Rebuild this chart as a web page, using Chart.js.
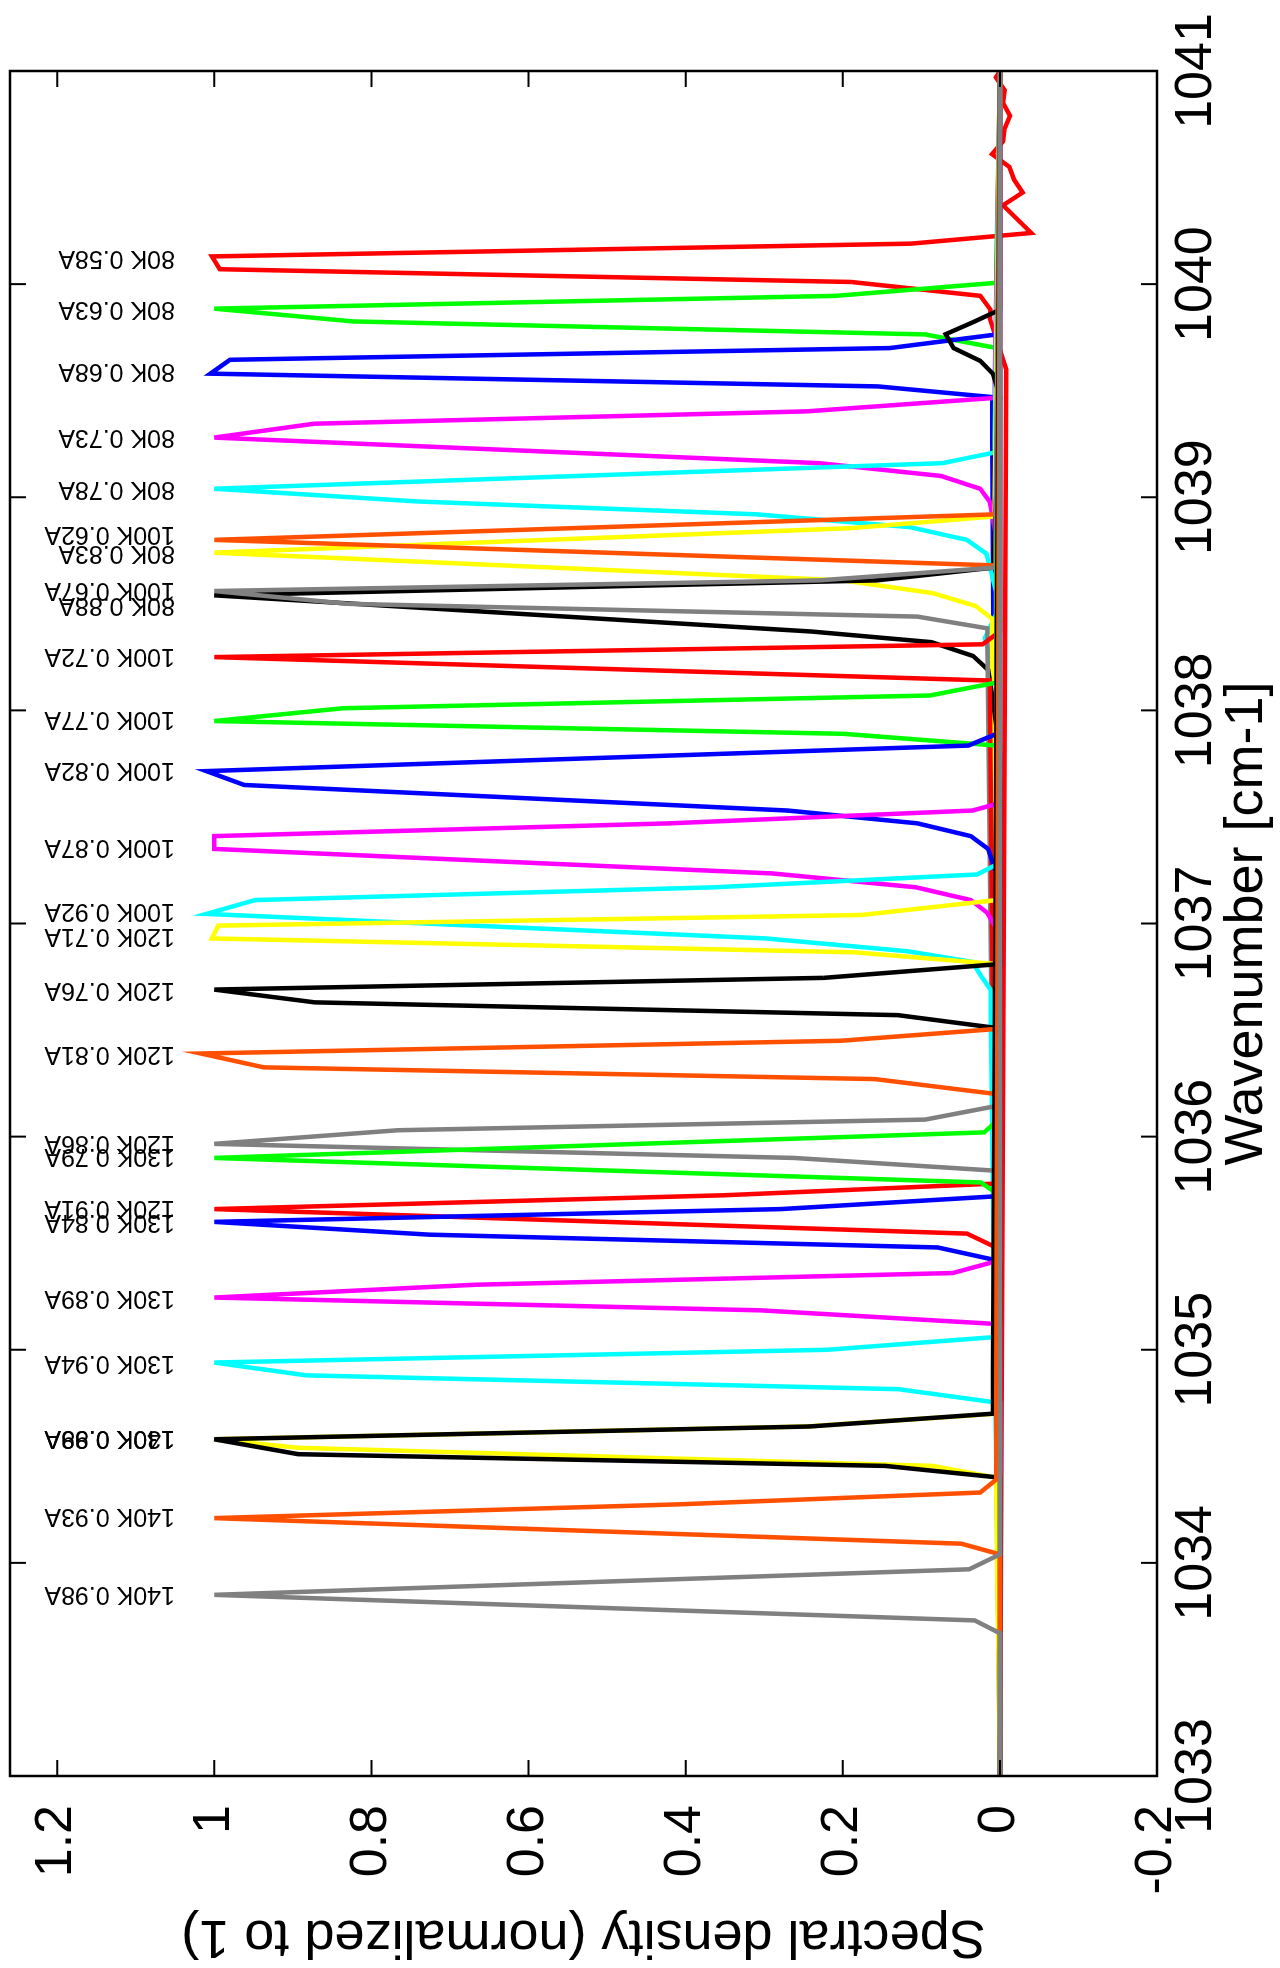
<!DOCTYPE html>
<html>
<head>
<meta charset="utf-8">
<script src="https://cdn.jsdelivr.net/npm/chart.js@4.4.1/dist/chart.umd.min.js"></script>
<style>
html, body { margin: 0; padding: 0; background: #fff; }
body { width: 1280px; height: 1968px; overflow: hidden; position: relative; }
/* the figure is drawn landscape and turned a quarter turn counter-clockwise */
#wrap { position: absolute; left: 0; top: 0; width: 1968px; height: 1280px;
        transform-origin: 0 0; transform: translateY(1968px) rotate(-90deg); }
</style>
</head>
<body>
<div id="wrap"><canvas id="myChart" width="1968" height="1280"></canvas></div>
<script>
// tick values
var waveTicks = [1033, 1034, 1035, 1036, 1037, 1038, 1039, 1040, 1041];
var densityTicks = [-0.2, 0, 0.2, 0.4, 0.6, 0.8, 1, 1.2];
var densityTickLabels = ['-0.2', '0', '0.2', '0.4', '0.6', '0.8', '1', '1.2'];

// one entry per spectrum, in plotting order
var seriesNames = [
    '80K 0.58A', '80K 0.63A', '80K 0.68A', '80K 0.73A', '80K 0.78A', '80K 0.83A', '80K 0.88A',
    '100K 0.62A', '100K 0.67A', '100K 0.72A', '100K 0.77A', '100K 0.82A', '100K 0.87A', '100K 0.92A',
    '120K 0.71A', '120K 0.76A', '120K 0.81A', '120K 0.86A', '120K 0.91A',
    '130K 0.79A', '130K 0.84A', '130K 0.89A', '130K 0.94A', '130K 0.99A',
    '140K 0.88A', '140K 0.93A', '140K 0.98A'
];
var colorCycle = ['#ff0000', '#00ff00', '#0000ff', '#ff00ff', '#00ffff', '#ffff00', '#000000', '#ff5000', '#808080'];

// where each text label sits (wavenumber) and at which density it starts
var labelWavenumbers = [
    1040.125, 1039.886, 1039.595, 1039.285, 1039.04, 1038.74, 1038.495,
    1038.826, 1038.565, 1038.256, 1037.96, 1037.72, 1037.36, 1037.06,
    1036.94, 1036.69, 1036.39, 1035.97, 1035.665,
    1035.91, 1035.60, 1035.245, 1034.94, 1034.585,
    1034.585, 1034.22, 1033.855
];
var labelLevel = 1.05;

// spectra: [wavenumber, spectral density]
var p80K058 = [[1033, 0], [1039.6, -0.008], [1039.84, 0.013], [1039.88, 0.012], [1039.945, 0.025], [1040.01, 0.189], [1040.07, 0.993], [1040.13, 1.003], [1040.19, 0.113], [1040.24, -0.04], [1040.37, -0.004], [1040.43, -0.029], [1040.49, -0.018], [1040.55, -0.012], [1040.61, 0.01], [1040.67, -0.004], [1040.73, -0.006], [1040.79, -0.013], [1040.85, -0.004], [1040.91, -0.006], [1040.97, 0.005], [1041, 0]];
var p80K063 = [[1033, 0], [1039.70, 0.004], [1039.764, 0.095], [1039.825, 0.823], [1039.885, 1.0], [1039.945, 0.209], [1040.006, 0.005], [1041, 0]];
var p80K068 = [[1033, 0], [1039.47, 0.01], [1039.52, 0.155], [1039.58, 1.005], [1039.645, 0.98], [1039.70, 0.14], [1039.764, 0.004], [1041, 0]];
var p80K073 = [[1033, 0], [1038.82, 0.005], [1038.98, 0.013], [1039.04, 0.025], [1039.10, 0.075], [1039.16, 0.23], [1039.28, 1.0], [1039.345, 0.873], [1039.403, 0.246], [1039.466, 0.007], [1041, 0]];
var p80K078 = [[1033, 0], [1038.14, 0.005], [1038.34, 0.019], [1038.45, 0.005], [1038.56, 0.005], [1038.735, 0.017], [1038.80, 0.042], [1038.86, 0.115], [1038.92, 0.31], [1038.98, 0.74], [1039.04, 1.0], [1039.16, 0.073], [1039.21, 0.007], [1041, 0]];
var p80K083 = [[1033, 0], [1038.43, 0.01], [1038.49, 0.031], [1038.55, 0.085], [1038.61, 0.2], [1038.74, 1.0], [1038.855, 0.19], [1038.91, 0.007], [1041, 0]];
var p80K088 = [[1033, 0], [1037.80, 0.0], [1038.05, 0.009], [1038.19, 0.015], [1038.255, 0.034], [1038.32, 0.087], [1038.37, 0.24], [1038.54, 1.0], [1038.61, 0.157], [1038.67, 0.008], [1039.47, 0.0], [1039.58, 0.009], [1039.64, 0.025], [1039.70, 0.059], [1039.765, 0.069], [1039.82, 0.035], [1039.88, 0.0], [1041, 0]];
var p100K062 = [[1033, 0], [1038.68, 0.005], [1038.80, 1.0], [1038.92, 0.005], [1041, 0]];
var p100K067 = [[1033, 0], [1038.385, 0.016], [1038.44, 0.105], [1038.50, 0.83], [1038.56, 1.0], [1038.61, 0.23], [1038.67, 0.006], [1041, 0]];
var p100K072 = [[1033, 0], [1038.14, 0.013], [1038.25, 1.0], [1038.31, 0.022], [1038.37, 0.0], [1041, 0]];
var p100K077 = [[1033, 0], [1037.835, 0.005], [1037.89, 0.199], [1037.95, 1.0], [1038.01, 0.836], [1038.07, 0.089], [1038.13, 0.005], [1041, 0]];
var p100K082 = [[1033, 0], [1037.24, 0.005], [1037.35, 0.015], [1037.41, 0.037], [1037.47, 0.105], [1037.53, 0.27], [1037.65, 0.962], [1037.715, 1.01], [1037.835, 0.04], [1037.89, 0.004], [1041, 0]];
var p100K087 = [[1033, 0], [1036.98, 0.005], [1037.05, 0.016], [1037.11, 0.037], [1037.17, 0.107], [1037.235, 0.29], [1037.35, 1.0], [1037.41, 1.0], [1037.47, 0.42], [1037.53, 0.035], [1037.56, 0.005], [1041, 0]];
var p100K092 = [[1033, 0], [1036.69, 0.012], [1036.76, 0.025], [1036.82, 0.035], [1036.87, 0.118], [1036.93, 0.298], [1037.045, 1.01], [1037.11, 0.948], [1037.17, 0.363], [1037.23, 0.029], [1037.275, 0.005], [1041, 0]];
var p120K071 = [[1033, 0], [1036.81, 0.005], [1036.865, 0.186], [1036.93, 1.003], [1036.99, 0.995], [1037.04, 0.176], [1037.11, 0.004], [1041, 0]];
var p120K076 = [[1033, 0], [1036.51, 0.005], [1036.57, 0.13], [1036.63, 0.872], [1036.69, 1.0], [1036.745, 0.224], [1036.81, 0.0], [1041, 0]];
var p120K081 = [[1033, 0], [1036.20, 0.005], [1036.27, 0.159], [1036.325, 0.937], [1036.39, 1.017], [1036.45, 0.202], [1036.505, 0.005], [1041, 0]];
var p120K086 = [[1033, 0], [1035.84, 0.005], [1035.90, 0.262], [1035.966, 1.0], [1036.03, 0.766], [1036.08, 0.095], [1036.144, 0.004], [1041, 0]];
var p120K091 = [[1033, 0], [1035.48, 0.005], [1035.545, 0.042], [1035.66, 1.0], [1035.725, 0.35], [1035.78, 0.004], [1041, 0]];
var p130K079 = [[1033, 0], [1035.735, 0.005], [1035.785, 0.024], [1035.90, 1.0], [1036.02, 0.02], [1036.07, 0.005], [1041, 0]];
var p130K084 = [[1033, 0], [1035.42, 0.005], [1035.48, 0.079], [1035.54, 0.726], [1035.60, 1.0], [1035.66, 0.279], [1035.72, 0.005], [1041, 0]];
var p130K089 = [[1033, 0], [1035.12, 0.0], [1035.185, 0.305], [1035.245, 1.0], [1035.305, 0.668], [1035.36, 0.06], [1035.42, 0.0], [1041, 0]];
var p130K094 = [[1033, 0], [1034.75, 0.0], [1034.815, 0.129], [1034.88, 0.883], [1034.94, 1.0], [1035.0, 0.219], [1035.06, 0.005], [1041, 0]];
var p130K099 = [[1033, 0], [1034.40, 0.005], [1034.455, 0.085], [1034.54, 0.893], [1034.58, 1.0], [1034.64, 0.246], [1034.70, 0.005], [1041, 0]];
var p140K088 = [[1033, 0], [1034.40, 0.0], [1034.455, 0.146], [1034.51, 0.893], [1034.58, 1.0], [1034.64, 0.242], [1034.70, 0.009], [1041, 0]];
var p140K093 = [[1033, 0], [1034.04, 0.0], [1034.09, 0.049], [1034.21, 1.0], [1034.275, 0.406], [1034.33, 0.025], [1034.39, 0.005], [1041, 0]];
var p140K098 = [[1033, 0], [1033.67, 0.0], [1033.73, 0.032], [1033.85, 1.0], [1033.97, 0.039], [1034.04, 0.0], [1041, 0]];

var spectra = [p80K058, p80K063, p80K068, p80K073, p80K078, p80K083, p80K088,
    p100K062, p100K067, p100K072, p100K077, p100K082, p100K087, p100K092,
    p120K071, p120K076, p120K081, p120K086, p120K091,
    p130K079, p130K084, p130K089, p130K094, p130K099,
    p140K088, p140K093, p140K098];

var fontFamily = '"Liberation Sans", Arial, Helvetica, sans-serif';

// later spectra are drawn on top, like in the original plot
var chartData = {
    datasets: spectra.map(function (pts, i) {
        return {
            label: seriesNames[i],
            data: pts.map(function (p) { return {x: p[0], y: p[1]}; }),
            borderColor: colorCycle[i % colorCycle.length],
            borderWidth: 4.5,
            showLine: true,
            pointRadius: 0,
            tension: 0,
            order: spectra.length - i
        };
    })
};

// box, inward tick marks and the peak names
var framePlugin = {
    id: 'frame',
    afterDatasetsDraw: function (chart) {
        var ctx = chart.ctx, a = chart.chartArea;
        var xs = chart.scales.x, ys = chart.scales.y;
        ctx.save();
        ctx.strokeStyle = '#000';
        ctx.lineWidth = 2;
        ctx.beginPath();
        waveTicks.forEach(function (t) {
            var px = xs.getPixelForValue(t);
            ctx.moveTo(px, a.bottom); ctx.lineTo(px, a.bottom - 16);
            ctx.moveTo(px, a.top); ctx.lineTo(px, a.top + 16);
        });
        densityTicks.forEach(function (t) {
            var py = ys.getPixelForValue(t);
            ctx.moveTo(a.left, py); ctx.lineTo(a.left + 16, py);
            ctx.moveTo(a.right, py); ctx.lineTo(a.right - 16, py);
        });
        ctx.stroke();
        ctx.lineWidth = 2.5;
        ctx.strokeRect(a.left, a.top, a.right - a.left, a.bottom - a.top);

        ctx.fillStyle = '#000';
        ctx.font = '25px ' + fontFamily;
        ctx.textAlign = 'left';
        ctx.textBaseline = 'middle';
        seriesNames.forEach(function (name, i) {
            ctx.save();
            ctx.translate(xs.getPixelForValue(labelWavenumbers[i]), ys.getPixelForValue(labelLevel));
            ctx.rotate(-Math.PI / 2);
            ctx.fillText(name, 0, 0);
            ctx.restore();
        });
        ctx.restore();
    }
};

var chartOptions = {
    responsive: false,
    animation: false,
    devicePixelRatio: 1,
    layout: {padding: {left: 0, right: 71, top: 10, bottom: 0}},
    plugins: {legend: {display: false}, tooltip: {enabled: false}},
    scales: {
        x: {
            type: 'linear',
            min: 1033,
            max: 1041,
            afterBuildTicks: function (s) { s.ticks = waveTicks.map(function (v) { return {value: v}; }); },
            afterFit: function (s) { s.height = 123; s.paddingLeft = 0; s.paddingRight = 0; },
            grid: {display: false, drawTicks: false},
            border: {display: false},
            ticks: {
                color: '#000',
                padding: 8,
                maxRotation: 0,
                autoSkip: false,
                font: {family: fontFamily, size: 52},
                callback: function (v) { return String(v); }
            },
            title: {
                display: true,
                text: 'Wavenumber [cm-1]',
                color: '#000',
                padding: 0,
                font: {family: fontFamily, size: 54}
            }
        },
        y: {
            type: 'linear',
            min: -0.2,
            max: 1.26,
            afterBuildTicks: function (s) { s.ticks = densityTicks.map(function (v) { return {value: v}; }); },
            afterFit: function (s) { s.width = 192; s.paddingTop = 0; s.paddingBottom = 0; },
            grid: {display: false, drawTicks: false},
            border: {display: false},
            ticks: {
                color: '#000',
                padding: 29,
                autoSkip: false,
                font: {family: fontFamily, size: 52},
                callback: function (v, i) { return densityTickLabels[i]; }
            },
            title: {
                display: true,
                text: 'Spectral density (normalized to 1)',
                color: '#000',
                padding: 0,
                font: {family: fontFamily, size: 54}
            }
        }
    }
};

var element = document.getElementById('myChart').getContext('2d');
var chart = new Chart(element, {type: 'scatter', data: chartData, options: chartOptions, plugins: [framePlugin]});
</script>
</body>
</html>
